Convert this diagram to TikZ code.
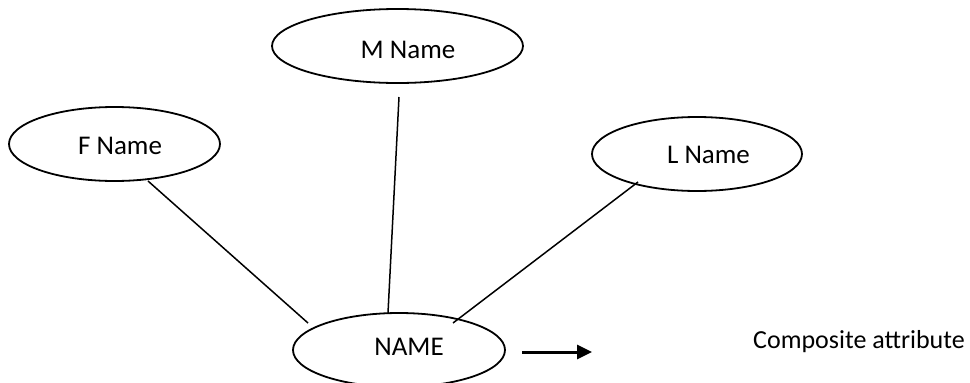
\documentclass[tikz,border=0pt]{standalone}
\usepackage{fontspec}
\setmainfont{Carlito}
\usetikzlibrary{shapes.geometric,arrows.meta,calc}
\tikzset{
  attr/.style={draw=black, line width=1.8pt, ellipse, inner sep=0pt,
    minimum width=#1, minimum height=74pt},
  lbl/.style={font=\fontsize{27}{32}\selectfont},
  conn/.style={draw=black, line width=1.5pt},
  bigarrow/.style={draw=black, line width=3pt, -{Triangle[length=15pt,width=14pt]}},
}
\begin{document}
\begin{tikzpicture}[x=1pt,y=-1pt]
\useasboundingbox (0,0) rectangle (970,383);
\node[attr=251pt, label={[lbl, xshift=10.5pt, yshift=-4pt]center:M Name}] (M) at (397.5,46) {};
\node[attr=211pt, label={[lbl, xshift=5.5pt, yshift=-2pt]center:F Name}] (F) at (114.5,144) {};
\node[attr=210pt, label={[lbl, xshift=11.5pt, yshift=-0.5pt]center:L Name}] (L) at (697,154) {};
\node[attr=212pt, label={[lbl, xshift=10pt, yshift=3.5pt]center:NAME}] (NAME) at (399,350) {};
\draw[conn] ($(F)+(33.5,37)$) -- ($(NAME)+(-91,-27)$);
\draw[conn] ($(M)+(1.5,51)$) -- ($(NAME)+(-11,-37)$);
\draw[conn] ($(L)+(-59,28)$) -- ($(NAME)+(54,-27)$);
\coordinate (tipend) at (592,352);
\draw[bigarrow] ($(NAME)+(123,2)$) -- (tipend);
\node[font=\fontsize{26}{31}\selectfont, anchor=base, inner sep=0pt] (comp) at (859,348) {Composite attribute};
\end{tikzpicture}
\end{document}
